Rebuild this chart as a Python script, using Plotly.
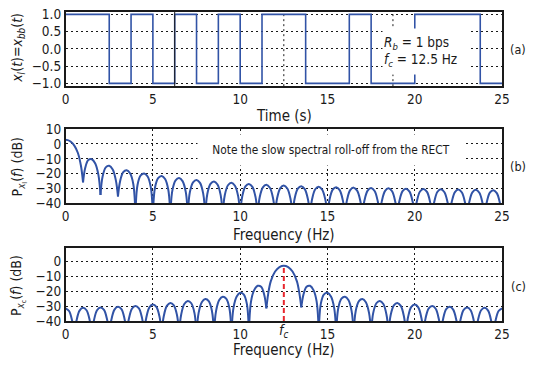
import plotly.graph_objects as go

# ---------------- data ----------------
# (a) bipolar NRZ baseband signal: level starting at each time
bit_times = [0, 1.25, 2.5, 3.75, 5, 6.25, 7.5, 8.75, 10, 11.25, 12.5, 13.75,
             15, 16.25, 17.5, 18.75, 20, 21.25, 22.5, 23.75, 25]
bit_levels = [1, 1, -1, 1, -1, 1, -1, 1, -1, 1, 1, -1,
              -1, 1, -1, -1, 1, 1, 1, -1, -1]
a_vgrid_solid = [6.25]
a_vgrid_dotted = [12.5, 18.75]

# (b) baseband PSD, one row per spectral lobe (dB), sampled at lobe offsets
b_lobe_start = [0, 1, 2, 3, 4, 5, 6, 7, 8, 9, 10, 11, 12,
                13, 14, 15, 16, 17, 18, 19, 20, 21, 22, 23, 24]
b_lobe_offsets = [0, 0.12, 0.3, 0.5, 0.7, 0.88, 1.0]
b_lobe_db = [
    [2.8, 2.6, 1.5, -1.1, -5.9, -14.7, -26.0],
    [-26.0, -16.4, -10.9, -10.3, -13.2, -20.9, -34.5],
    [-34.5, -22.0, -15.8, -14.7, -17.2, -24.6, -35.5],
    [-35.5, -25.3, -19.0, -17.7, -20.0, -27.2, -48],
    [-48, -27.7, -21.3, -19.9, -22.0, -29.2, -48],
    [-48, -29.6, -23.1, -21.6, -23.7, -30.8, -48],
    [-48, -31.2, -24.6, -23.0, -25.1, -32.2, -48],
    [-48, -32.5, -25.9, -24.3, -26.3, -33.4, -48],
    [-48, -33.6, -27.0, -25.3, -27.4, -34.4, -48],
    [-48, -34.5, -27.9, -26.2, -28.2, -35.1, -48],
    [-48, -35.3, -28.7, -27.0, -29.0, -35.9, -48],
    [-48, -35.9, -29.3, -27.6, -29.6, -36.5, -48],
    [-48, -36.4, -29.8, -28.1, -30.1, -37.0, -48],
    [-48, -36.8, -30.2, -28.5, -30.5, -37.4, -48],
    [-48, -37.2, -30.6, -28.9, -30.9, -37.8, -48],
    [-48, -37.5, -30.9, -29.2, -31.2, -38.1, -48],
    [-48, -37.8, -31.2, -29.5, -31.5, -38.4, -48],
    [-48, -38.1, -31.5, -29.8, -31.8, -38.7, -48],
    [-48, -38.3, -31.7, -30.0, -32.0, -38.9, -48],
    [-48, -38.5, -31.9, -30.2, -32.2, -39.1, -48],
    [-48, -38.7, -32.1, -30.4, -32.4, -39.3, -48],
    [-48, -38.9, -32.3, -30.6, -32.6, -39.5, -48],
    [-48, -39.1, -32.5, -30.8, -32.8, -39.7, -48],
    [-48, -39.3, -32.7, -31.0, -33.0, -39.9, -48],
    [-48, -39.5, -32.9, -31.2, -33.2, -40.1, -48],
]

# (c) bandpass PSD around the carrier
FC = 12.5
fc_peak_db = -2.8
c_side_peak_f = [1, 2, 3, 4, 5, 6, 7, 8, 9, 10, 11,
                 14, 15, 16, 17, 18, 19, 20, 21, 22, 23, 24]
c_side_offsets = [-0.5, -0.38, -0.2, 0, 0.2, 0.38, 0.5]
c_side_db = [
    [-48, -40.0, -33.0, -31.1, -32.7, -39.4, -48],
    [-48, -39.7, -32.7, -30.8, -32.4, -39.1, -48],
    [-48, -39.3, -32.3, -30.4, -32.0, -38.7, -48],
    [-48, -38.8, -31.7, -29.8, -31.4, -38.0, -48],
    [-48, -37.9, -30.8, -28.9, -30.5, -37.1, -48],
    [-48, -36.9, -29.8, -27.8, -29.4, -35.9, -48],
    [-48, -35.7, -28.5, -26.5, -28.0, -34.5, -48],
    [-48, -34.5, -27.3, -25.2, -26.6, -33.0, -48],
    [-48, -33.1, -25.9, -23.6, -24.9, -31.2, -48],
    [-48, -30.9, -23.5, -21.0, -22.1, -28.3, -48],
    [-48, -26.9, -19.2, -16.3, -16.9, -22.4, -31.5],
    [-30.8, -22.4, -16.9, -16.3, -19.2, -26.9, -48],
    [-48, -28.3, -22.1, -21.0, -23.5, -30.9, -48],
    [-48, -31.2, -24.9, -23.6, -25.9, -33.1, -48],
    [-48, -33.0, -26.6, -25.2, -27.3, -34.5, -48],
    [-48, -34.5, -28.0, -26.5, -28.5, -35.7, -48],
    [-48, -35.9, -29.4, -27.8, -29.8, -36.9, -48],
    [-48, -37.1, -30.5, -28.9, -30.8, -37.9, -48],
    [-48, -38.0, -31.4, -29.8, -31.7, -38.8, -48],
    [-48, -38.7, -32.0, -30.4, -32.3, -39.3, -48],
    [-48, -39.1, -32.4, -30.8, -32.7, -39.7, -48],
    [-48, -39.4, -32.7, -31.1, -33.0, -40.0, -48],
]
c_main_f = [11.5, 11.6, 11.75, 12.0, 12.25, 12.5, 12.75, 13.0, 13.25, 13.4, 13.5]
c_main_db = [-31.5, -22.0, -13.3, -6.7, -3.7, -2.8, -3.7, -6.7, -13.3, -22.0, -30.8]
c_edge_f = [[0, 0.2, 0.38, 0.5], [24.5, 24.62, 24.8, 25]]
c_edge_db = [[-31.4, -33.2, -40.0, -48], [-48, -40.0, -33.2, -31.4]]

x_ticks = [0, 5, 10, 15, 20, 25]
a_yticks = [-1.0, -0.5, 0.0, 0.5, 1.0]
b_yticks = [-40, -30, -20, -10, 0, 10]
c_yticks = [-40, -30, -20, -10, 0]

# ---------------- styling ----------------
W, H = 535, 369
FONT = "Liberation Sans Narrow, DejaVu Sans Condensed, Arial Narrow, sans-serif"
BLUE = "#3153a6"
RED = "#e8262d"
INK = "#1a1a1a"


def py(px):
    return 1 - px / H


def px_x(px):
    return px / W


X0, X1 = px_x(63), px_x(509.5)
dom_a = [py(81.7), py(3.8)]
dom_b = [py(204.0), py(126.7)]
dom_c = [py(327.3), py(251.0)]


def join_lobes(xs_list, ys_list):
    X, Y = [], []
    for xs, ys in zip(xs_list, ys_list):
        X += list(xs) + [None]
        Y += list(ys) + [None]
    return X, Y


fig = go.Figure()

# (a)
fig.add_trace(go.Scatter(x=bit_times, y=bit_levels, mode="lines",
                         line=dict(color=BLUE, width=1.6, shape="hv"),
                         xaxis="x", yaxis="y", showlegend=False, hoverinfo="skip"))

# (b)
b_xs = [[s + o for o in b_lobe_offsets] for s in b_lobe_start]
bx, by = join_lobes(b_xs, b_lobe_db)
fig.add_trace(go.Scatter(x=bx, y=by, mode="lines",
                         line=dict(color=BLUE, width=2, shape="spline", smoothing=1.0),
                         xaxis="x2", yaxis="y2", showlegend=False, hoverinfo="skip"))

# (c)
c_xs = [[p + o for o in c_side_offsets] for p in c_side_peak_f]
c_all_x = c_edge_f[:1] + c_xs[:11] + [c_main_f] + c_xs[11:] + c_edge_f[1:]
c_all_y = c_edge_db[:1] + c_side_db[:11] + [c_main_db] + c_side_db[11:] + c_edge_db[1:]
cx, cy = join_lobes(c_all_x, c_all_y)
fig.add_trace(go.Scatter(x=cx, y=cy, mode="lines",
                         line=dict(color=BLUE, width=2, shape="spline", smoothing=1.0),
                         xaxis="x3", yaxis="y3", showlegend=False, hoverinfo="skip"))
fig.add_trace(go.Scatter(x=[FC, FC], y=[-40, fc_peak_db], mode="lines",
                         line=dict(color=RED, width=2, dash="5px,3px"),
                         xaxis="x3", yaxis="y3", showlegend=False, hoverinfo="skip"))

GRID = dict(showgrid=True, gridcolor=INK, gridwidth=1, griddash="2px,3px")
AX = dict(showline=True, linecolor=INK, linewidth=1.5, mirror=True, zeroline=False,
          ticks="", tickfont=dict(family=FONT, size=13.5, color=INK))

layout = dict(
    width=W, height=H, margin=dict(l=0, r=0, t=0, b=0),
    paper_bgcolor="white", plot_bgcolor="white", showlegend=False,
    xaxis=dict(domain=[X0, X1], range=[0, 25], anchor="y", tickvals=x_ticks,
               showgrid=False, **AX),
    yaxis=dict(domain=dom_a, range=[-1.08, 1.08], anchor="x", tickvals=a_yticks,
               tickformat=".1f", **GRID, **AX),
    xaxis2=dict(domain=[X0, X1], range=[0, 25], anchor="y2", tickvals=x_ticks,
                **GRID, **AX),
    yaxis2=dict(domain=dom_b, range=[-40, 10], anchor="x2", tickvals=b_yticks,
                **GRID, **AX),
    xaxis3=dict(domain=[X0, X1], range=[0, 25], anchor="y3", tickvals=x_ticks,
                **GRID, **AX),
    yaxis3=dict(domain=dom_c, range=[-40, 9], anchor="x3", tickvals=c_yticks,
                **GRID, **AX),
)
fig.update_layout(**layout)

shapes = []
for t in a_vgrid_solid:
    shapes.append(dict(type="line", xref="x", yref="paper", x0=t, x1=t,
                       y0=dom_a[0], y1=dom_a[1], layer="above",
                       line=dict(color=INK, width=1)))
for t in a_vgrid_dotted:
    shapes.append(dict(type="line", xref="x", yref="paper", x0=t, x1=t,
                       y0=dom_a[0], y1=dom_a[1], layer="below",
                       line=dict(color=INK, width=1, dash="2px,3px")))
fig.update_layout(shapes=shapes)

ann = []
TF = dict(family=FONT, size=15, color=INK)
YT = dict(family=FONT, size=14, color=INK)
# y titles
ann.append(dict(text="<i>x<sub>I</sub></i>(<i>t</i>)=<i>x<sub>bb</sub></i>(<i>t</i>)",
                x=px_x(15), y=py(42), xref="paper", yref="paper", textangle=-90,
                showarrow=False, font=YT, xanchor="center", yanchor="middle"))
ann.append(dict(text="P<sub><i>x</i><sub>I</sub></sub>(<i>f</i>) (dB)",
                x=px_x(15), y=py(166), xref="paper", yref="paper", textangle=-90,
                showarrow=False, font=YT, xanchor="center", yanchor="middle"))
ann.append(dict(text="P<sub><i>x</i><sub>c</sub></sub>(<i>f</i>) (dB)",
                x=px_x(15), y=py(290), xref="paper", yref="paper", textangle=-90,
                showarrow=False, font=YT, xanchor="center", yanchor="middle"))
# x titles
for txt, yy in [("Time (s)", 113), ("Frequency (Hz)", 237), ("Frequency (Hz)", 358)]:
    ann.append(dict(text=txt, x=(X0 + X1) / 2, y=py(yy), xref="paper", yref="paper",
                    showarrow=False, font=TF, xanchor="center", yanchor="middle"))
# panel tags
for txt, yy in [("(a)", 43), ("(b)", 166), ("(c)", 291)]:
    ann.append(dict(text=txt, x=px_x(526), y=py(yy), xref="paper", yref="paper",
                    showarrow=False, font=dict(family=FONT, size=12.5, color=INK),
                    xanchor="center", yanchor="middle"))
# f_c tick label
ann.append(dict(text="<i>f<sub>c</sub></i>", x=FC, y=py(338), xref="x3", yref="paper",
                showarrow=False, font=dict(family=FONT, size=14, color=INK),
                xanchor="center", yanchor="middle"))
# parameter box in (a)
ann.append(dict(text="<i>R<sub>b</sub></i> = 1 bps<br><i>f<sub>c</sub></i> = 12.5 Hz",
                x=px_x(432), y=py(45.3), xref="paper", yref="paper",
                showarrow=False, font=dict(family=FONT, size=13.5, color=INK),
                xanchor="center", yanchor="middle", align="left",
                bgcolor="white", width=84, height=43, borderpad=1))
# note in (b)
ann.append(dict(text="Note the slow spectral roll-off from the RECT",
                x=px_x(334), y=py(148), xref="paper", yref="paper",
                showarrow=False, font=dict(family=FONT, size=11.8, color=INK),
                xanchor="center", yanchor="middle",
                bgcolor="white", width=264, height=28, borderpad=1))
fig.update_layout(annotations=ann)

fig.write_html("out.html",
               config={"displayModeBar": False},
               post_script="document.body.style.margin='0px';"
                           "document.body.style.overflow='hidden';")
